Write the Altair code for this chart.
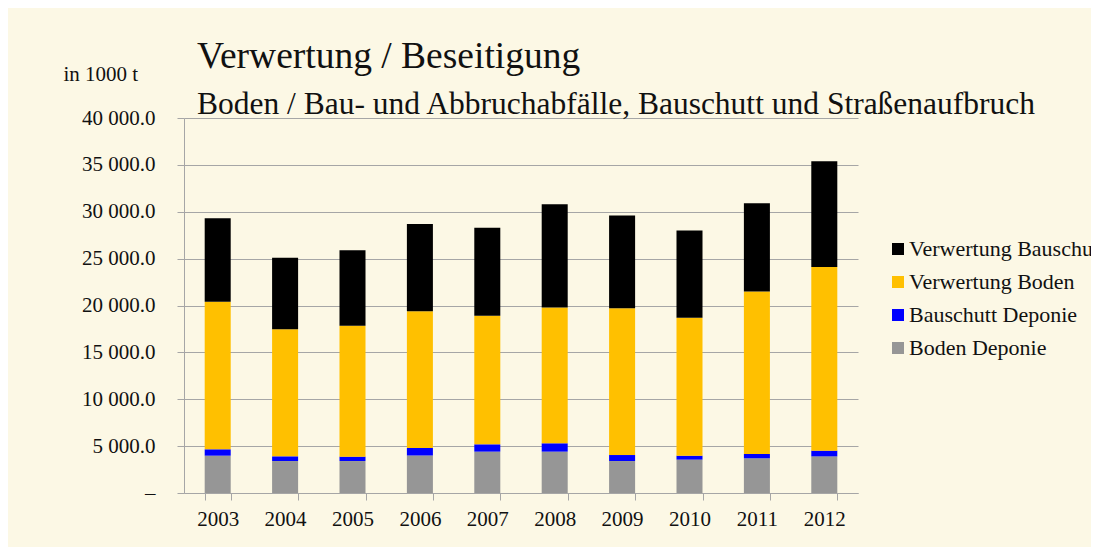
import altair as alt
import pandas as pd

years = ["2003", "2004", "2005", "2006", "2007", "2008", "2009", "2010", "2011", "2012"]
boden_deponie = [3980, 3410, 3410, 4000, 4410, 4410, 3410, 3560, 3700, 3910]
bauschutt_deponie = [680, 500, 470, 800, 780, 890, 640, 420, 460, 610]
verwertung_boden = [15740, 13550, 13970, 14600, 13710, 14500, 15650, 14720, 17340, 19580]
verwertung_bauschutt = [8900, 7640, 8050, 9300, 9400, 11000, 9900, 9300, 9400, 11300]

series_names = ["Boden Deponie", "Bauschutt Deponie", "Verwertung Boden", "Verwertung Bauschutt"]
series_values = [boden_deponie, bauschutt_deponie, verwertung_boden, verwertung_bauschutt]
legend_order = ["Verwertung Bauschutt", "Verwertung Boden", "Bauschutt Deponie", "Boden Deponie"]
legend_colors = ["#000000", "#FFC000", "#0000FF", "#969696"]

rows = []
for idx, (name, vals) in enumerate(zip(series_names, series_values)):
    for y, v in zip(years, vals):
        rows.append({"Jahr": y, "Serie": name, "Wert": v, "order": idx})
df = pd.DataFrame(rows)

FONT = "Liberation Serif"
TXT = "#111111"
GRID = "#a6a6a6"

chart = alt.Chart(df).mark_bar().encode(
    x=alt.X("Jahr:N", sort=years,
            scale=alt.Scale(paddingInner=0.614, paddingOuter=0.307),
            axis=alt.Axis(title=None, labelAngle=0, tickBand="extent", tickSize=7,
                          labelFont=FONT, labelFontSize=21, labelColor=TXT, labelPadding=8,
                          domainColor=GRID, tickColor=GRID, grid=False)),
    y=alt.Y("Wert:Q", stack="zero",
            scale=alt.Scale(domain=[0, 40000], nice=False),
            axis=alt.Axis(values=[0, 5000, 10000, 15000, 20000, 25000, 30000, 35000, 40000],
                          labelExpr="datum.value == 0 ? '–' : replace(format(datum.value, ',.1f'), ',', ' ')",
                          labelFont=FONT, labelFontSize=21, labelColor=TXT, labelPadding=22,
                          tickSize=7, tickColor=GRID, domainColor=GRID, gridColor=GRID,
                          title="in 1000 t", titleAngle=0, titleX=-121, titleY=-38,
                          titleAlign="left", titleBaseline="alphabetic", titleFont=FONT,
                          titleFontSize=21, titleFontWeight="normal", titleColor=TXT)),
    color=alt.Color("Serie:N",
                    scale=alt.Scale(domain=legend_order, range=legend_colors),
                    legend=alt.Legend(title=None, orient="none", legendX=703, legendY=120,
                                      symbolType="square", symbolSize=144, symbolStrokeWidth=0,
                                      labelFont=FONT, labelFontSize=22, labelColor=TXT,
                                      rowPadding=11, labelOffset=0, labelLimit=400, padding=0)),
    order=alt.Order("order:Q"),
).properties(
    width=674, height=375,
    padding={"left": 176, "top": 110, "right": 233, "bottom": 54},
    autosize=alt.AutoSizeParams(type="none"),
    background="#FCF8E5",
    title=alt.TitleParams(
        text="Verwertung / Beseitigung",
        subtitle="\u2005Boden / Bau- und Abbruchabfälle, Bauschutt und Straßenaufbruch",
        anchor="start", frame="group", dx=13, offset=-57,
        font=FONT, fontSize=37.5, fontWeight="normal", color=TXT,
        subtitleFont=FONT, subtitleFontSize=31.5, subtitleColor=TXT, subtitlePadding=13,
    ),
).configure_view(stroke=None)

chart.save("out.html", embed_options={"renderer": "svg", "actions": False})
